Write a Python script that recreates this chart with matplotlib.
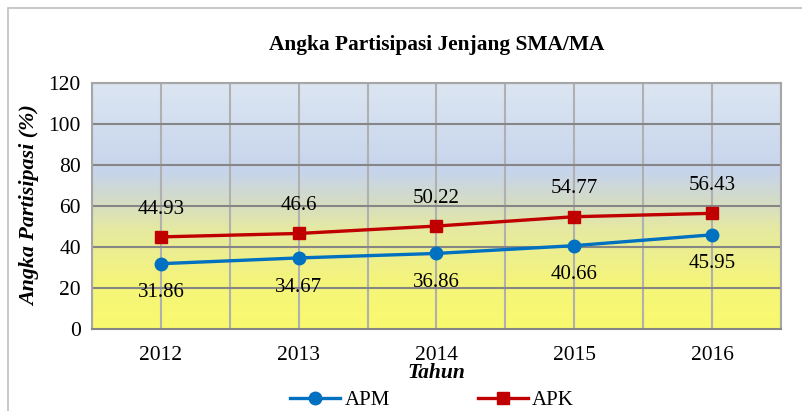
import numpy as np
import matplotlib.pyplot as plt
from matplotlib.colors import LinearSegmentedColormap
from matplotlib.patches import Rectangle
from matplotlib.lines import Line2D

years = ["2012", "2013", "2014", "2015", "2016"]
apm = [31.86, 34.67, 36.86, 40.66, 45.95]
apk = [44.93, 46.6, 50.22, 54.77, 56.43]

plt.rcParams["font.family"] = ["Liberation Serif", "DejaVu Serif"]

fig = plt.figure(figsize=(8.02, 4.11), dpi=100)
W, H = 802, 411
ax = fig.add_axes([92 / W, 1 - 329 / H, (781 - 92) / W, (329 - 83) / H])

# outer chart border
fig.patches.append(Rectangle((8 / W, -0.1), 1.2, 1 - 8 / H + 0.1, transform=fig.transFigure,
                             fill=False, edgecolor="#bfbfbf", linewidth=1.2))

# gradient background, yellow at bottom to blue at top
cmap = LinearSegmentedColormap.from_list("bg", [
    (0.0, "#fafa6e"), (0.2, "#f4f47c"), (0.4, "#e6eaa0"), (0.52, "#d4dcc6"),
    (0.64, "#c6d4ec"), (1.0, "#dce6f2")])
grad = np.linspace(0, 1, 256).reshape(-1, 1)
x = np.arange(len(years))
ax.imshow(grad, aspect="auto", cmap=cmap, origin="lower",
          extent=[-0.5, 4.5, 0, 120], zorder=0)

ax.set_xlim(-0.5, 4.5)
ax.set_ylim(0, 120)
ax.set_yticks(range(0, 121, 20))
ax.set_xticks(x)
ax.set_xticklabels(years)
ax.tick_params(labelsize=15.5, length=0, pad=8)
ax.tick_params(axis="x", pad=12)

for v in np.arange(-0.5, 4.51, 0.5):
    ax.axvline(v, color="#b0b0b0", linewidth=1.5, zorder=1)
for v in range(20, 121, 20):
    ax.axhline(v, color="#868686", linewidth=1.5, zorder=1)
for s in ax.spines.values():
    s.set_color("#a6a6a6")
    s.set_linewidth(1.5)
ax.spines["bottom"].set_color("#868686")

ax.plot(x, apm, color="#0070c0", linewidth=2.4, marker="o", markersize=9, zorder=3)
ax.plot(x, apk, color="#c00000", linewidth=2.4, marker="s", markersize=8, zorder=3)

for i in x:
    ax.annotate(f"{apk[i]:g}", (i, apk[i]), xytext=(0, 20), textcoords="offset points",
                ha="center", va="center", fontsize=15)
    ax.annotate(f"{apm[i]:g}", (i, apm[i]), xytext=(0, -21), textcoords="offset points",
                ha="center", va="center", fontsize=15)

ax.set_title("Angka Partisipasi Jenjang SMA/MA", fontsize=15.4, fontweight="bold", pad=24)
ax.set_ylabel("Angka Partisipasi (%)", fontsize=15.8, fontweight="bold", style="italic", labelpad=6)
ax.set_xlabel("Tahun", fontsize=15.5, fontweight="bold", style="italic", labelpad=-1)

handles = [Line2D([], [], color="#0070c0", linewidth=2.4, marker="o", markersize=9),
           Line2D([], [], color="#c00000", linewidth=2.4, marker="s", markersize=8)]
fig.legend(handles, ["APM", "APK"], loc="center", bbox_to_anchor=(432 / W, 1 - 400 / H),
           ncol=2, frameon=False, fontsize=15, handlelength=2.4, columnspacing=4.2,
           handletextpad=0.2)

fig.savefig("out.png", dpi=100)
